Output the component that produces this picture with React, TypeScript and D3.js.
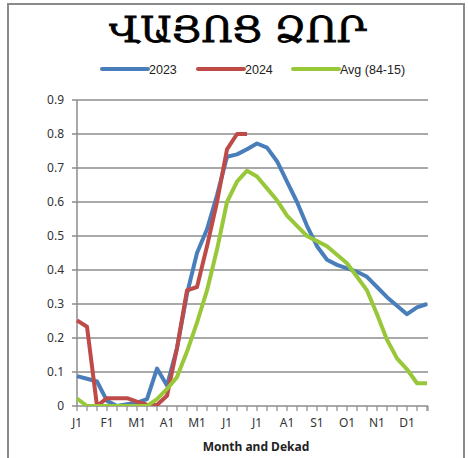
import React from "react";
import * as d3 from "d3";

const title = "ՎԱՅՈՑ ՁՈՐ";
const dekads = d3.range(36);
const tickLabels = ["J1", "F1", "M1", "A1", "M1", "J1", "J1", "A1", "S1", "O1", "N1", "D1"];
const yTicks = [0, 0.1, 0.2, 0.3, 0.4, 0.5, 0.6, 0.7, 0.8, 0.9];

const s2023 = [0.088, 0.08, 0.072, 0.015, 0.0, 0.005, 0.01, 0.02, 0.11, 0.06, 0.17, 0.33, 0.45, 0.52, 0.62, 0.733, 0.74, 0.755, 0.772, 0.76, 0.72, 0.66, 0.6, 0.53, 0.47, 0.43, 0.415, 0.405, 0.395, 0.38, 0.35, 0.32, 0.295, 0.27, 0.29, 0.3];
const s2024 = [0.252, 0.233, 0.0, 0.023, 0.023, 0.023, 0.013, 0.004, 0.003, 0.03, 0.17, 0.34, 0.35, 0.47, 0.6, 0.755, 0.8, 0.8];
const sAvg = [0.022, 0.0, 0.0, 0.0, 0.0, 0.0, 0.0, 0.0, 0.02, 0.05, 0.085, 0.16, 0.245, 0.34, 0.46, 0.6, 0.66, 0.692, 0.675, 0.64, 0.605, 0.56, 0.53, 0.5, 0.485, 0.47, 0.445, 0.42, 0.38, 0.34, 0.27, 0.195, 0.14, 0.108, 0.067, 0.067];

const seriesNames = ["2023", "2024", "Avg (84-15)"];
const colors = ["#4A7EBB", "#BE4B48", "#98C83A"];

export default function App() {
  const W = 468, H = 458;
  const x = d3.scaleLinear().domain([0, 35]).range([77, 427]);
  const y = d3.scaleLinear().domain([0, 0.9]).range([406, 100]);
  const line = d3.line<number>().x((_, i) => x(i)).y((d) => y(d));
  const allSeries = [s2023, s2024, sAvg];
  const legendX = [102, 198, 293];
  const font = "'Liberation Sans', Arial, sans-serif";
  const tfont = "'Noto Sans', 'Liberation Sans', sans-serif";
  return (
    <svg width={W} height={H} style={{ position: "absolute", left: 0, top: 0 }}>
      <rect x={0} y={0} width={W} height={H} fill="#fff" />
      <rect x={8} y={4} width={456} height={470} fill="none" stroke="#8a8a8a" strokeWidth={2} />
      <text x={238} y={42} textAnchor="middle" fontFamily="'DejaVu Serif', serif" fontSize={36} fill="#000" stroke="#000" strokeWidth={0.8} textLength={258} lengthAdjust="spacingAndGlyphs">{title}</text>
      {seriesNames.map((n, i) => (
        <g key={n}>
          <line x1={legendX[i]} x2={legendX[i] + 46} y1={69} y2={69} stroke={colors[i]} strokeWidth={4} strokeLinecap="round" />
          <text x={legendX[i] + 47} y={73.5} fontFamily={font} fontSize={12.5} fill="#222">{n}</text>
        </g>
      ))}
      {yTicks.map((t) => (
        <g key={t}>
          <line x1={x(0)} x2={428} y1={y(t)} y2={y(t)} stroke="#8c8c8c" strokeWidth={1.5} />
          <line x1={72} x2={77} y1={y(t)} y2={y(t)} stroke="#8c8c8c" strokeWidth={1.5} />
          <text x={64} y={y(t) + 4} textAnchor="end" fontFamily={tfont} fontSize={12} fill="#333">{t === 0 ? "0" : d3.format(".1f")(t)}</text>
        </g>
      ))}
      <line x1={77} x2={77} y1={y(0.9)} y2={406} stroke="#8c8c8c" strokeWidth={1.5} />
      {dekads.map((d) => (
        <line key={d} x1={x(d)} x2={x(d)} y1={406} y2={411} stroke="#8c8c8c" strokeWidth={1.2} />
      ))}
      <line x1={428} x2={428} y1={406} y2={411} stroke="#8c8c8c" strokeWidth={1.2} />
      {tickLabels.map((l, i) => (
        <text key={i} x={x(i * 3)} y={427} textAnchor="middle" fontFamily={tfont} fontSize={12} fill="#333">{l}</text>
      ))}
      <text x={256} y={451} textAnchor="middle" fontFamily={tfont} fontSize={12} fontWeight="bold" fill="#222">Month and Dekad</text>
      <defs>
        <clipPath id="plot">
          <rect x={70} y={90} width={370} height={316} />
        </clipPath>
      </defs>
      <g clipPath="url(#plot)">
        {allSeries.map((s, i) => (
          <path key={i} d={line(s) || ""} fill="none" stroke={colors[i]} strokeWidth={4} strokeLinejoin="round" />
        ))}
      </g>
    </svg>
  );
}
